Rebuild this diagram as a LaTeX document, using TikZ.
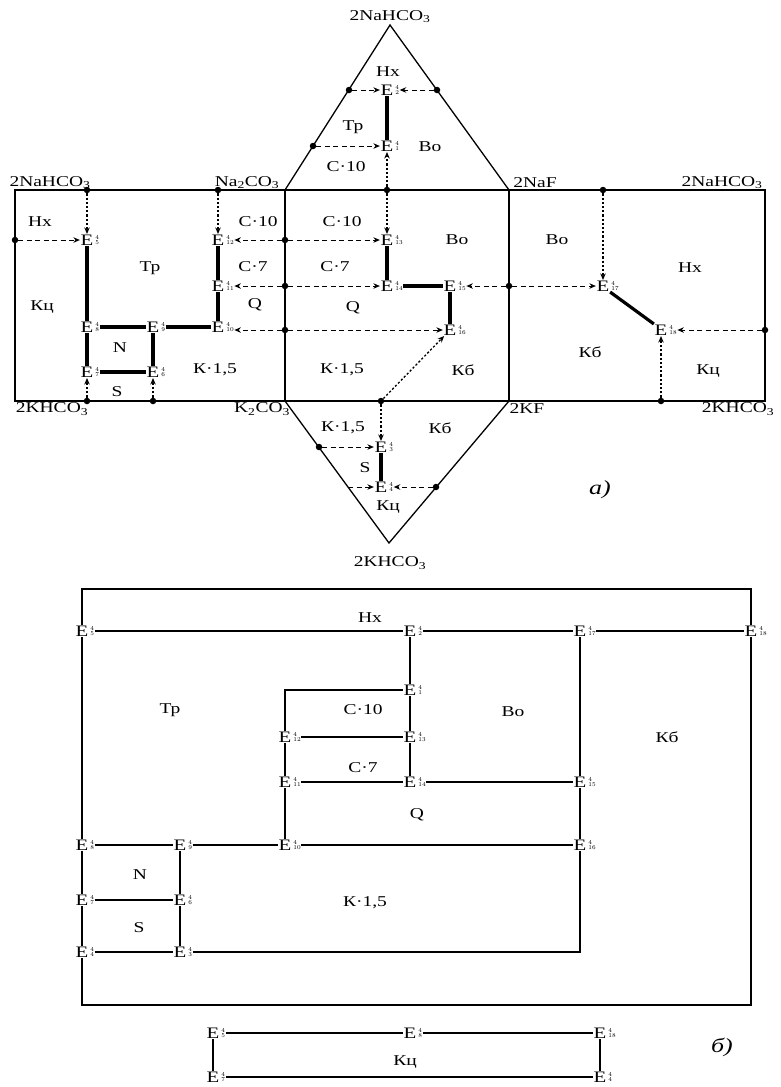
\documentclass[tikz,border=0pt]{standalone}
\usepackage{fontspec}
\setmainfont{Liberation Serif}[FakeStretch=1.3]
\usetikzlibrary{arrows.meta}
\tikzset{
  lbl/.style={font=\fontsize{15}{15}\selectfont, inner sep=0pt},
  E/.style={font=\fontsize{16}{16}\selectfont, inner sep=0.6pt},
  ix/.style={font=\fontsize{9}{9}\selectfont, inner sep=0pt},
  dot/.style={circle, fill, inner sep=0pt, minimum size=6.5pt},
  bd/.style={line width=1.3pt},
  thk/.style={line width=3.2pt},
  da/.style={line width=1pt, dash pattern=on 5pt off 3.5pt, -{Stealth[length=6.5pt,width=5.5pt]}},
  dt/.style={line width=1.3pt, dash pattern=on 2.2pt off 2pt, -{Stealth[length=6.5pt,width=5.5pt]}},
  ln/.style={line width=1.1pt},
}
\newcommand\Ept[4]{\node[E,label={[ix,name=#1i,label distance=1pt]east:${}^{4}_{#4}$}] (#1) at (#2,#3) {E};}
\begin{document}
\begin{tikzpicture}[x=1pt,y=-1pt]
\useasboundingbox (0,0) rectangle (780,1087);
% ---------------- part a: outline
\coordinate (apex) at (390,25);
\coordinate (tl) at (285,190);
\coordinate (tr) at (509,190);
\coordinate (bl) at (285,401);
\coordinate (br) at (509,401);
\coordinate (bapex) at (389,543);
\draw[bd] (15,190) rectangle (765,401);
\draw[bd] (tl) -- (bl);
\draw[bd] (tr) -- (br);
\draw[bd] (tl) -- (apex) -- (tr);
\draw[bd] (bl) -- (bapex) -- (br);
% chemical labels
\node[lbl] (c1) at (390,17) {2NaHCO\textsubscript{3}};
\node[lbl] (c2) at (50,183) {2NaHCO\textsubscript{3}};
\node[lbl] (c3) at (247,183) {Na\textsubscript{2}CO\textsubscript{3}};
\node[lbl] (c4) at (535,183) {2NaF};
\node[lbl] (c5) at (722,183) {2NaHCO\textsubscript{3}};
\node[lbl] (c6) at (52,409) {2KHCO\textsubscript{3}};
\node[lbl] (c7) at (262,409) {K\textsubscript{2}CO\textsubscript{3}};
\node[lbl] (c8) at (527,409) {2KF};
\node[lbl] (c9) at (738,409) {2KHCO\textsubscript{3}};
\node[lbl] (c10) at (390,563) {2KHCO\textsubscript{3}};
% region labels
\node[lbl] at (388,72) {Нх};
\node[lbl] at (353,127) {Тр};
\node[lbl] at (430,147) {Во};
\node[lbl] at (346,167) {С·10};
\node[lbl] at (40,222) {Нх};
\node[lbl] at (150,268) {Тр};
\node[lbl] at (42,307) {Кц};
\node[lbl] at (258,222) {С·10};
\node[lbl] at (253,267) {С·7};
\node[lbl] at (255,305) {Q};
\node[lbl] at (120,348) {N};
\node[lbl] at (117,392) {S};
\node[lbl] at (215,370) {К·1,5};
\node[lbl] at (342,222) {С·10};
\node[lbl] at (457,240) {Во};
\node[lbl] at (335,267) {С·7};
\node[lbl] at (353,308) {Q};
\node[lbl] at (342,370) {К·1,5};
\node[lbl] at (463,370) {Кб};
\node[lbl] at (557,240) {Во};
\node[lbl] at (690,268) {Нх};
\node[lbl] at (590,352) {Кб};
\node[lbl] at (708,371) {Кц};
\node[lbl] at (343,428) {К·1,5};
\node[lbl] at (440,428) {Кб};
\node[lbl] at (365,468) {S};
\node[lbl] at (388,507) {Кц};
\node[lbl, font=\fontsize{20}{20}\selectfont\itshape] at (600,490) {а)};
% invariant points of part a
\Ept{e2}{387}{90}{2}
\Ept{e1}{387}{146}{1}
\Ept{e5}{87}{240}{5}
\Ept{e8}{87}{327}{8}
\Ept{e9}{153}{327}{9}
\Ept{e10}{218}{327}{10}
\Ept{e11}{218}{286}{11}
\Ept{e12}{218}{240}{12}
\Ept{e7}{87}{372}{7}
\Ept{e6}{153}{372}{6}
\Ept{e13}{387}{240}{13}
\Ept{e14}{387}{286}{14}
\Ept{e15}{450}{286}{15}
\Ept{e16}{450}{330}{16}
\Ept{e17}{603}{286}{17}
\Ept{e18}{661}{330}{18}
\Ept{e3}{381}{447}{3}
\Ept{e4}{381}{487}{4}
% dots
\node[dot] (t1) at (349,90) {};
\node[dot] (t2) at (437,90) {};
\node[dot] (t3) at (313,146) {};
\node[dot] (t4) at (387,190) {};
\node[dot] (m1) at (285,240) {};
\node[dot] (m2) at (285,286) {};
\node[dot] (m3) at (285,330) {};
\node[dot] (m4) at (509,286) {};
\node[dot] (m5) at (381,401) {};
\node[dot] (l1) at (87,190) {};
\node[dot] (l2) at (15,240) {};
\node[dot] (l3) at (218,190) {};
\node[dot] (l4) at (87,401) {};
\node[dot] (l5) at (153,401) {};
\node[dot] (r1) at (603,190) {};
\node[dot] (r2) at (765,330) {};
\node[dot] (r3) at (661,401) {};
\node[dot] (b1) at (319,447) {};
\coordinate (b0) at (348,487);
\node[dot] (b2) at (436,487) {};
% connectors, part a
\draw[da] (t1) -- (e2);
\draw[da] (t2) -- (t2 -| e2i.east);
\draw[da] (t3) -- (e1);
\draw[dt] (t4) -- (e1);
\draw[dt] (t4) -- (e13);
\draw[thk] (e2) -- (e1);
\draw[da] (m1) -- (e13);
\draw[da] (m1) -- (m1 -| e12i.east);
\draw[da] (m2) -- (e14);
\draw[da] (m2) -- (m2 -| e11i.east);
\draw[da] (m3) -- (m3 -| e16.west);
\draw[da] (m3) -- (m3 -| e10i.east);
\draw[da] (m4) -- (m4 -| e15i.east);
\draw[da] (m4) -- (e17);
\draw[dt] (m5) -- (e16);
\draw[dt] (m5) -- (e3);
\draw[thk] (e13) -- (e14);
\draw[thk] (e14i.east) -- (e15);
\draw[thk] (e15) -- (e16);
\draw[dt] (l1) -- (e5);
\draw[da] (l2) -- (e5);
\draw[dt] (l3) -- (e12);
\draw[dt] (l4) -- (e7);
\draw[dt] (l5) -- (e6);
\draw[thk] (e5) -- (e8);
\draw[thk] (e8i.east) -- (e9);
\draw[thk] (e9i.east) -- (e10);
\draw[thk] (e12) -- (e11);
\draw[thk] (e11) -- (e10);
\draw[thk] (e8) -- (e7);
\draw[thk] (e9) -- (e6);
\draw[thk] (e7i.east) -- (e6);
\draw[dt] (r1) -- (e17);
\draw[thk] (e17.south east) -- (e18.north west);
\draw[da] (r2) -- (r2 -| e18i.east);
\draw[dt] (r3) -- (e18);
\draw[da] (b1) -- (e3);
\draw[thk] (e3) -- (e4);
\draw[da] (b0) -- (e4);
\draw[da] (b2) -- (b2 -| e4i.east);
% ---------------- part b
\Ept{a5}{82}{631}{5}
\Ept{a2}{410}{631}{2}
\Ept{a17}{580}{631}{17}
\Ept{a18}{751}{631}{18}
\Ept{a1}{410}{690}{1}
\Ept{a12}{285}{737}{12}
\Ept{a13}{410}{737}{13}
\Ept{a11}{285}{782}{11}
\Ept{a14}{410}{782}{14}
\Ept{a15}{580}{782}{15}
\Ept{a8}{82}{845}{8}
\Ept{a9}{180}{845}{9}
\Ept{a10}{285}{845}{10}
\Ept{a16}{580}{845}{16}
\Ept{a7}{82}{900}{7}
\Ept{a6}{180}{900}{6}
\Ept{a4}{82}{952}{4}
\Ept{a3}{180}{952}{3}
\coordinate (f1) at (82,589);
\coordinate (f2) at (751,589);
\coordinate (f3) at (82,1005);
\coordinate (f4) at (751,1005);
\draw[ln] (a5.north) -- (f1) -- (f2) -- (a18.north);
\draw[ln] (a4.south) -- (f3) -- (f4) -- (a18.south);
\draw[ln] (a5i.east) -- (a2);
\draw[ln] (a2i.east) -- (a17);
\draw[ln] (a17i.east) -- (a18);
\draw[ln] (a2) -- (a1);
\draw[ln] (a1) -- (a13);
\draw[ln] (a13) -- (a14);
\draw[ln] (a1.west) -| (a12.north);
\draw[ln] (a12i.east) -- (a13);
\draw[ln] (a12) -- (a11);
\draw[ln] (a11i.east) -- (a14);
\draw[ln] (a14i.east) -- (a15);
\draw[ln] (a17) -- (a15);
\draw[ln] (a15) -- (a16);
\draw[ln] (a11) -- (a10);
\draw[ln] (a8i.east) -- (a9);
\draw[ln] (a9i.east) -- (a10);
\draw[ln] (a10i.east) -- (a16);
\draw[ln] (a16.south) |- (a3i.east);
\draw[ln] (a5) -- (a8);
\draw[ln] (a8) -- (a7);
\draw[ln] (a7) -- (a4);
\draw[ln] (a9) -- (a6);
\draw[ln] (a6) -- (a3);
\draw[ln] (a7i.east) -- (a6);
\draw[ln] (a4i.east) -- (a3);
\node[lbl] at (370,618) {Нх};
\node[lbl] at (170,710) {Тр};
\node[lbl] at (363,710) {С·10};
\node[lbl] at (513,712) {Во};
\node[lbl] at (667,737) {Кб};
\node[lbl] at (363,768) {С·7};
\node[lbl] at (417,815) {Q};
\node[lbl] at (140,875) {N};
\node[lbl] at (139,928) {S};
\node[lbl] at (365,903) {К·1,5};
% bottom box
\Ept{g1}{213}{1033}{5}
\Ept{g2}{410}{1033}{8}
\Ept{g3}{600}{1033}{18}
\Ept{g4}{213}{1077}{7}
\Ept{g5}{600}{1077}{4}
\draw[ln] (g1i.east) -- (g2);
\draw[ln] (g2i.east) -- (g3);
\draw[ln] (g1) -- (g4);
\draw[ln] (g3) -- (g5);
\draw[ln] (g4i.east) -- (g5);
\node[lbl] at (405,1062) {Кц};
\node[lbl, font=\fontsize{20}{20}\selectfont\itshape] at (722,1047) {б)};
\end{tikzpicture}
\end{document}
